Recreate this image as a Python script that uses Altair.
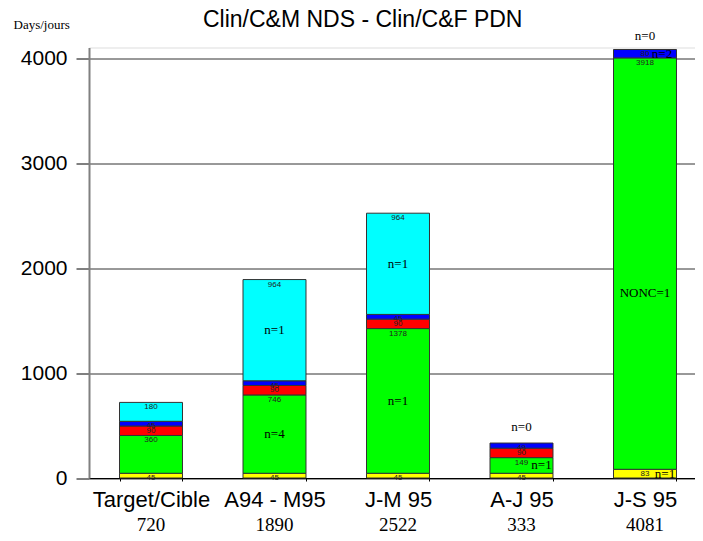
import altair as alt
import pandas as pd

categories = ["Target/Cible", "A94 - M95", "J-M 95", "A-J 95", "J-S 95"]
totals = [720, 1890, 2522, 333, 4081]
segment_names = ["yellow", "green", "red", "blue", "cyan"]
yellow = [45, 45, 45, 45, 83]
green = [360, 746, 1378, 149, 3918]
red = [90, 90, 90, 90, 0]
blue = [45, 45, 45, 49, 80]
cyan = [180, 964, 964, 0, 0]
segment_colors = ["#FFFF00", "#00FF00", "#FF0000", "#0000FF", "#00FFFF"]

# annotations: category, segment, anchor, text
note_cat = ["A94 - M95", "A94 - M95", "J-M 95", "J-M 95", "A-J 95", "A-J 95",
            "J-S 95", "J-S 95", "J-S 95", "J-S 95"]
note_seg = ["green", "cyan", "green", "cyan", "blue", "green",
            "blue", "blue", "green", "yellow"]
note_anchor = ["mid", "mid", "mid", "mid", "top", "mid", "top", "mid", "mid", "mid"]
note_text = ["n=4", "n=1", "n=1", "n=1", "n=0", "n=1", "n=0", "n=2", "NONC=1", "n=1"]
note_dx = [0, 0, 0, 0, 0, 20, 0, 17, 0, 20]
note_dy = [0, 0, 0, 0, -16, 0, -13, 0, 29, 0]

series = [yellow, green, red, blue, cyan]
rows = []
for i, cat in enumerate(categories):
    base = 0
    for name, vals in zip(segment_names, series):
        v = vals[i]
        if v > 0:
            rows.append({"cat": cat, "seg": name, "value": v, "y0": base,
                         "y1": base + v, "ymid": base + v / 2, "label": str(v)})
        base += v
df = pd.DataFrame(rows)

notes = []
for c, s, a, t, dx, dy in zip(note_cat, note_seg, note_anchor, note_text, note_dx, note_dy):
    r = df[(df.cat == c) & (df.seg == s)].iloc[0]
    notes.append({"cat": c, "y": r["y1"] if a == "top" else r["ymid"], "text": t,
                  "dx": dx, "dy": dy})
ndf = pd.DataFrame(notes)

tdf = pd.DataFrame({"cat": categories, "total": [str(t) for t in totals]})

SANS = "Liberation Sans"
SERIF = "Liberation Serif"

xscale = alt.Scale(domain=categories, range=[0, 618], paddingInner=0.49, paddingOuter=0.247)
yscale = alt.Scale(domain=[0, 4100], nice=False)

x_enc = alt.X("cat:N", sort=categories, scale=xscale,
              axis=alt.Axis(title=None, labelFont=SANS, labelFontSize=22, labelColor="black",
                            labelAngle=0, tickSize=3, tickBand="extent", tickColor="black",
                            domainColor="black", labelPadding=8, grid=False))

bars = alt.Chart(df).mark_bar(stroke="#333333", strokeWidth=1).encode(
    x=x_enc,
    y=alt.Y("y0:Q", scale=yscale,
            axis=alt.Axis(values=[0, 1000, 2000, 3000, 4000], format="d",
                          title="Days/jours", titleAngle=0, titleX=-76, titleY=-23.5,
                          titleAlign="left", titleBaseline="middle", titleFont=SERIF,
                          titleFontSize=13, titleFontWeight="normal", titleColor="black",
                          labelFont=SANS, labelFontSize=21, labelColor="black",
                          labelPadding=9, tickSize=13, tickColor="black",
                          domainColor="#808080", domainWidth=2,
                          grid=True, gridColor="#333333", gridOpacity=1)),
    y2="y1:Q",
    color=alt.Color("seg:N", scale=alt.Scale(domain=segment_names, range=segment_colors),
                    legend=None),
)

seg_labels = alt.Chart(df).mark_text(font=SANS, fontSize=8, baseline="top", dy=1,
                                     color="#222222").encode(
    x=alt.X("cat:N", sort=categories, scale=xscale),
    y=alt.Y("y1:Q", scale=yscale),
    text="label:N",
)

note_layers = []
for (dx, dy), g in ndf.groupby(["dx", "dy"]):
    note_layers.append(
        alt.Chart(g).mark_text(font=SERIF, fontSize=13, baseline="middle", dx=int(dx),
                               dy=int(dy), color="black").encode(
            x=alt.X("cat:N", sort=categories, scale=xscale),
            y=alt.Y("y:Q", scale=yscale),
            text="text:N",
        )
    )

total_labels = alt.Chart(tdf).mark_text(font=SERIF, fontSize=19, baseline="alphabetic",
                                        color="black").encode(
    x=alt.X("cat:N", sort=categories, scale=xscale),
    y=alt.value(483),
    text="total:N",
)

chart = alt.layer(bars, seg_labels, *note_layers, total_labels).properties(
    width=606,
    height=430.5,
    padding={"left": 81, "top": 39.5, "right": 0, "bottom": 55},
    autosize=alt.AutoSizeParams(type="none"),
    title=alt.TitleParams("Clin/C&M NDS - Clin/C&F PDN", font=SANS, fontSize=23,
                          fontWeight="normal", color="black", anchor="start",
                          frame="group", dx=114, offset=-14),
).configure_view(stroke=None).configure(background="white")

chart.save("out.html", embed_options={"renderer": "svg", "actions": False})
